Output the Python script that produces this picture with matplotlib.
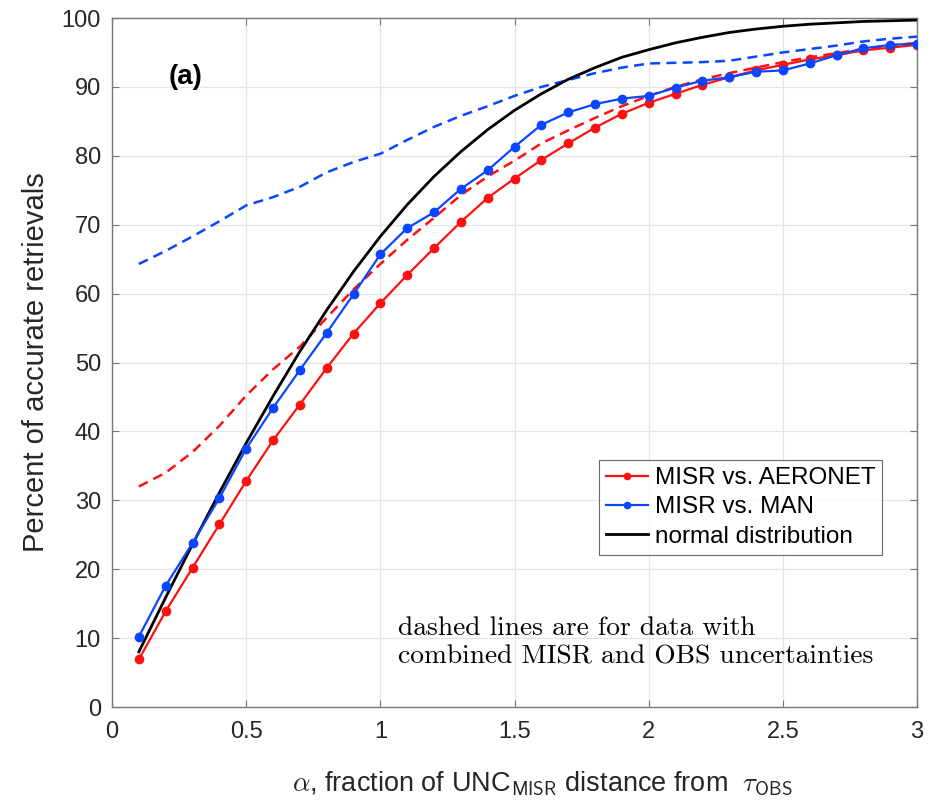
import numpy as np
import matplotlib
matplotlib.use('Agg')
import matplotlib.pyplot as plt

# ─── DONNÉES ──────────────────────────────────────────────────────────────────
alpha = [0.1, 0.2, 0.3, 0.4, 0.5, 0.6, 0.7, 0.8, 0.9, 1.0,
         1.1, 1.2, 1.3, 1.4, 1.5, 1.6, 1.7, 1.8, 1.9, 2.0,
         2.1, 2.2, 2.3, 2.4, 2.5, 2.6, 2.7, 2.8, 2.9, 3.0]

aeronet = [6.9, 13.9, 20.2, 26.5, 32.8, 38.7, 43.9, 49.2, 54.2, 58.6,
           62.7, 66.6, 70.4, 73.9, 76.7, 79.4, 81.8, 84.1, 86.1, 87.7,
           89.0, 90.3, 91.4, 92.4, 93.2, 94.0, 94.6, 95.3, 95.7, 96.1]

man = [10.2, 17.6, 23.8, 30.3, 37.5, 43.4, 48.9, 54.3, 59.9, 65.7,
       69.5, 71.8, 75.2, 77.9, 81.3, 84.5, 86.3, 87.5, 88.3, 88.7,
       89.9, 90.9, 91.4, 92.2, 92.4, 93.4, 94.6, 95.6, 96.1, 96.3]

normal = [8.0, 15.9, 23.6, 31.1, 38.3, 45.1, 51.6, 57.6, 63.2, 68.3,
          72.9, 77.0, 80.6, 83.8, 86.6, 89.0, 91.1, 92.8, 94.3, 95.4,
          96.4, 97.2, 97.9, 98.4, 98.8, 99.1, 99.3, 99.5, 99.6, 99.7]

# courbes en tirets : incertitudes MISR + OBS combinées
aeronet_comb = [32.0, 34.0, 37.0, 40.8, 45.2, 49.0, 52.3, 56.5, 60.6, 64.3,
                67.8, 71.0, 74.3, 77.0, 79.3, 81.8, 83.7, 85.5, 87.2, 88.7,
                90.0, 91.1, 92.0, 92.8, 93.6, 94.3, 94.9, 95.5, 96.0, 96.4]

man_comb = [64.3, 66.2, 68.3, 70.5, 72.8, 74.0, 75.5, 77.6, 79.1, 80.3,
            82.3, 84.2, 85.8, 87.2, 88.7, 90.0, 91.0, 92.0, 92.8, 93.4,
            93.5, 93.6, 93.8, 94.4, 95.0, 95.5, 96.0, 96.6, 97.0, 97.3]

RED = '#ff1010'
BLUE = '#0a46ff'

# ─── FIGURE ───────────────────────────────────────────────────────────────────
plt.rcParams['font.family'] = ['Liberation Sans', 'DejaVu Sans']
plt.rcParams['mathtext.fontset'] = 'cm'

fig = plt.figure(figsize=(9.31, 8.08), dpi=100)
ax = fig.add_axes([0.1203, 0.125, 0.8647, 0.8527])

ax.plot(alpha, normal, '-', color='black', linewidth=2.0, zorder=3,
        label='normal distribution')
ax.plot(alpha, aeronet_comb, '--', color=RED, linewidth=1.8, dashes=(4, 2.5), zorder=2)
ax.plot(alpha, man_comb, '--', color=BLUE, linewidth=1.8, dashes=(4, 2.5), zorder=2)
ax.plot(alpha, aeronet, '-o', color=RED, linewidth=1.6, markersize=6, zorder=4,
        label='MISR vs. AERONET')
ax.plot(alpha, man, '-o', color=BLUE, linewidth=1.6, markersize=6, zorder=4,
        label='MISR vs. MAN')

ax.set_xlim(0, 3)
ax.set_ylim(0, 100)
ax.set_xticks([0, 0.5, 1, 1.5, 2, 2.5, 3])
ax.set_xticklabels(['0', '0.5', '1', '1.5', '2', '2.5', '3'])
ax.set_yticks(range(0, 101, 10))

ax.grid(color='#e4e4e4', linewidth=0.9)
ax.set_axisbelow(True)
ax.tick_params(direction='in', top=True, right=True, length=5,
               colors='#777777', labelcolor='#262626', labelsize=17)
ax.tick_params(axis='x', pad=10)
ax.tick_params(axis='y', pad=8)
for sp in ax.spines.values():
    sp.set_color('#777777')
    sp.set_linewidth(1.0)

ax.set_xlabel(r'$\alpha$, fraction of UNC$_{\mathsf{MISR}}$ distance from  $\tau_{\mathsf{OBS}}$',
              fontsize=19.5, color='#262626')
ax.xaxis.set_label_coords(0.535, -0.09)
ax.set_ylabel('Percent of accurate retrievals', fontsize=21, color='#262626', labelpad=8)

ax.text(0.07, 0.915, '(a)', transform=ax.transAxes, fontsize=20,
        fontweight='bold', va='center', ha='left')

ax.text(0.355, 0.094, 'dashed lines are for data with\ncombined MISR and OBS uncertainties',
        transform=ax.transAxes, fontsize=19.8, family='cmr10',
        va='center', ha='left', linespacing=1.25)

handles, labels = ax.get_legend_handles_labels()
order = [1, 2, 0]
leg = ax.legend([handles[i] for i in order], [labels[i] for i in order],
                loc='lower right', bbox_to_anchor=(0.957, 0.2206),
                fontsize=17.5, frameon=True, fancybox=False, handlelength=1.75,
                handletextpad=0.25, borderpad=0.3, labelspacing=0.3,
                borderaxespad=0)
leg.get_frame().set_edgecolor('#444444')
leg.get_frame().set_linewidth(0.8)
for h in leg.legend_handles:
    h.set_markersize(4.5)

plt.savefig('out.png', dpi=100)
plt.close()
